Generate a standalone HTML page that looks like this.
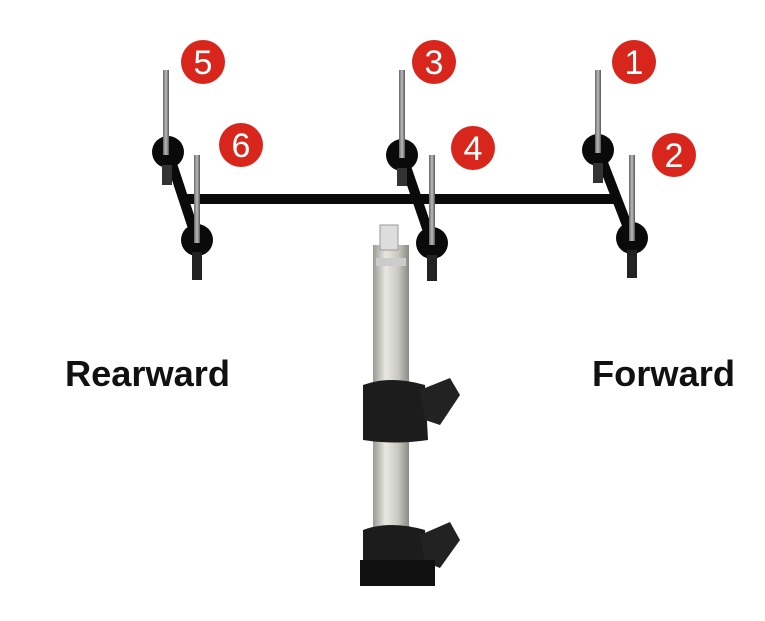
<!DOCTYPE html>
<html><head><style>
html,body{margin:0;padding:0;background:#fff;}
svg{display:block;}
</style></head><body>
<svg width="765" height="621" viewBox="0 0 765 621" xmlns="http://www.w3.org/2000/svg">
<defs>
<linearGradient id="pole" x1="0" x2="1">
<stop offset="0" stop-color="#9a9a92"/><stop offset="0.35" stop-color="#e8e8e2"/><stop offset="0.7" stop-color="#c8c8c0"/><stop offset="1" stop-color="#8a8a84"/>
</linearGradient>
<linearGradient id="ant" x1="0" x2="1">
<stop offset="0" stop-color="#666"/><stop offset="0.5" stop-color="#bbb"/><stop offset="1" stop-color="#555"/>
</linearGradient>
</defs>
<rect x="373" y="245" width="36" height="340" fill="url(#pole)"/>
<rect x="380" y="225" width="18" height="25" fill="#ddd" stroke="#999"/>
<rect x="376" y="258" width="30" height="8" fill="#ccc"/>
<path d="M363 385 Q390 375 425 385 L428 440 Q395 445 363 440 Z" fill="#1c1c1c"/>
<path d="M420 390 L450 378 L460 395 L440 425 L425 420 Z" fill="#222"/>
<path d="M363 530 Q390 520 425 530 L428 585 L363 585 Z" fill="#1c1c1c"/>
<path d="M420 535 L450 522 L460 540 L440 568 L425 562 Z" fill="#222"/>
<rect x="360" y="560" width="75" height="26" fill="#111"/>
<rect x="180" y="194" width="440" height="10" fill="#0a0a0a"/>
<g fill="#0a0a0a">
<line x1="168" y1="152" x2="197" y2="240" stroke="#0a0a0a" stroke-width="10"/>
<line x1="402" y1="155" x2="432" y2="243" stroke="#0a0a0a" stroke-width="10"/>
<line x1="598" y1="150" x2="632" y2="238" stroke="#0a0a0a" stroke-width="10"/>
<circle cx="168" cy="152" r="16"/><circle cx="197" cy="240" r="16"/>
<circle cx="402" cy="155" r="16"/><circle cx="432" cy="243" r="16"/>
<circle cx="598" cy="150" r="16"/><circle cx="632" cy="238" r="16"/>
<rect x="162" y="165" width="10" height="20" fill="#333"/>
<rect x="192" y="252" width="10" height="28" fill="#222"/>
<rect x="427" y="255" width="10" height="26" fill="#222"/>
<rect x="627" y="250" width="10" height="28" fill="#222"/>
<rect x="397" y="168" width="10" height="18" fill="#333"/>
<rect x="593" y="163" width="10" height="20" fill="#333"/>
</g>
<g fill="url(#ant)">
<rect x="163" y="70" width="6" height="85"/><rect x="194" y="155" width="6" height="88"/>
<rect x="399" y="70" width="6" height="88"/><rect x="429" y="155" width="6" height="90"/>
<rect x="595" y="70" width="6" height="83"/><rect x="629" y="155" width="6" height="86"/>
</g>
<g fill="#d9261c">
<circle cx="203" cy="62" r="22"/><circle cx="241" cy="145" r="22"/>
<circle cx="434" cy="62" r="22"/><circle cx="473" cy="148" r="22"/>
<circle cx="634" cy="62" r="22"/><circle cx="674" cy="155" r="22"/>
</g>
<g fill="#fff" font-family="Liberation Sans, sans-serif" font-size="34" text-anchor="middle">
<text x="203" y="74">5</text><text x="241" y="157">6</text>
<text x="434" y="74">3</text><text x="473" y="160">4</text>
<text x="634" y="74">1</text><text x="674" y="167">2</text>
</g>
<g fill="#111" font-family="Liberation Sans, sans-serif" font-size="36" font-weight="bold">
<text x="65" y="386" textLength="165" lengthAdjust="spacingAndGlyphs">Rearward</text>
<text x="592" y="386" textLength="143" lengthAdjust="spacingAndGlyphs">Forward</text>
</g>
</svg>
</body></html>
